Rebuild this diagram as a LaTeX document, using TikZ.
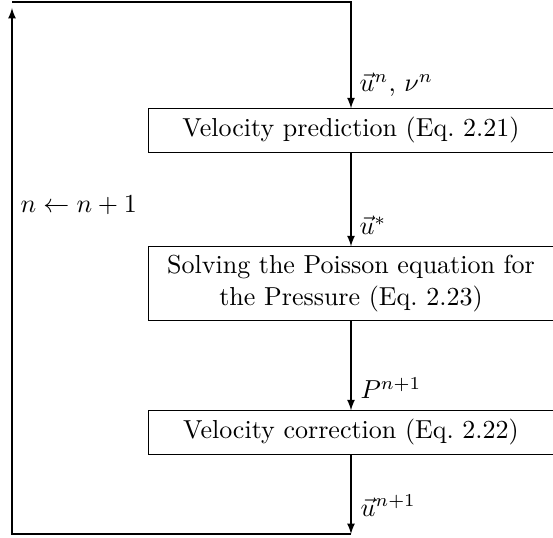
\documentclass[tikz,border=0pt]{standalone}
\usetikzlibrary{arrows}
\begin{document}
\begin{tikzpicture}[x=0.3846pt,y=-0.3846pt,
  box/.style={draw, rectangle, minimum width=155.8pt, align=center, inner sep=3.333pt},
  lab/.style={inner sep=0pt, anchor=base west},
  conn/.style={-latex, line width=0.4pt}]
\useasboundingbox (0,0) rectangle (553,538);
\node[box, minimum height=16.5pt] (b1) at (351,130.5) {Velocity prediction (Eq.~2.21)};
\node[box] (b2) at (351,283.5) {Solving the Poisson equation for\\ the Pressure (Eq.~2.23)};
\node[box, minimum height=16.5pt] (b3) at (351,432.5) {Velocity correction (Eq.~2.22)};
\coordinate (topl) at (12,2);
\coordinate (topr) at (351,2);
\coordinate (bot) at (351,534);
\coordinate (botl) at (12,534);
\coordinate (tip) at (12,8);
\draw[conn] (topl) -- (topr) -- (b1.north);
\draw[conn] (b1.south) -- (b2.north);
\draw[conn] (b2.south) -- (b3.north);
\draw[conn] (b3.south) -- (bot);
\draw[conn] (bot) -- (botl) -- (tip);
\node[lab] (l1) at (359,92) {$\vec{u}^n$, $\nu^n$};
\node[lab] (l2) at (359,235) {$\vec{u}^*$};
\node[lab] (l3) at (360,399) {$P^{n+1}$};
\node[lab] (l4) at (360,516) {$\vec{u}^{n+1}$};
\node[lab] (l5) at (20,213) {$n \leftarrow n+1$};
\end{tikzpicture}
\end{document}
